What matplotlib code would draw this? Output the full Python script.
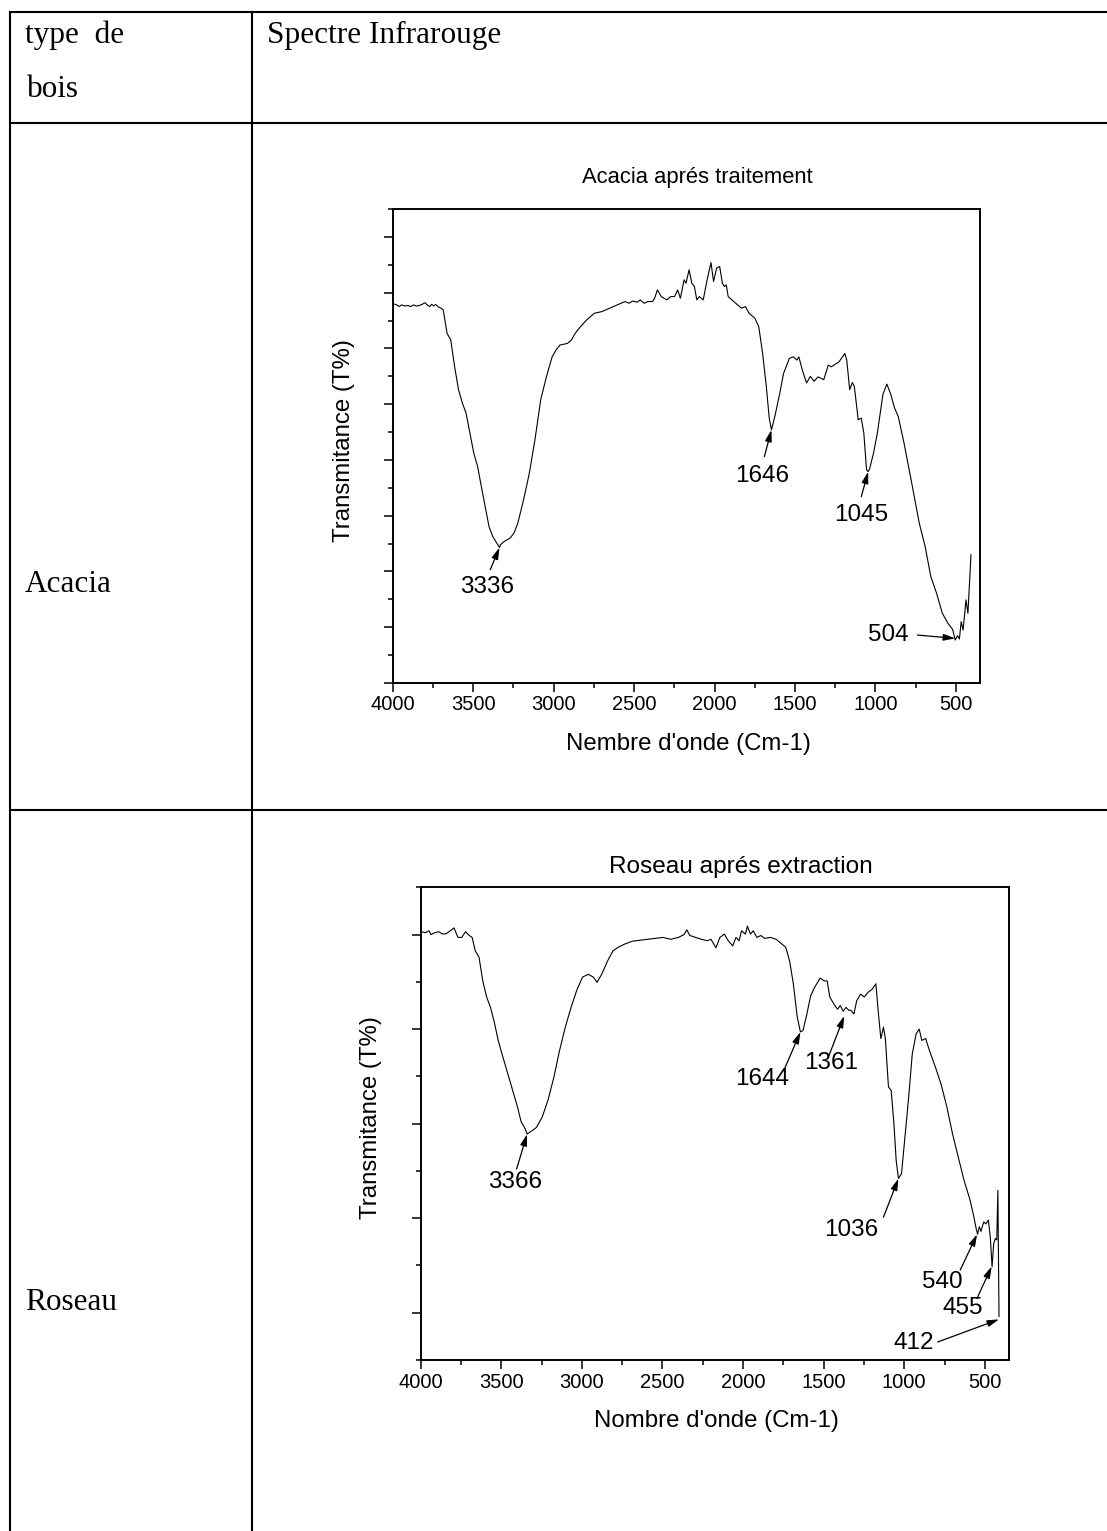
import numpy as np
import matplotlib
matplotlib.use("Agg")
import matplotlib.pyplot as plt
from matplotlib.lines import Line2D
from matplotlib.ticker import MultipleLocator, FixedLocator

# ---------------- data ----------------
acacia_wn = [3995, 3975, 3960, 3945, 3924, 3905, 3888, 3870, 3853, 3835, 3817, 3800, 3785, 3770,
             3758, 3745, 3734, 3715, 3698, 3686, 3662, 3639, 3615, 3591, 3567, 3544, 3520, 3496,
             3472, 3449, 3425, 3401, 3377, 3336, 3330, 3306, 3270, 3246, 3223, 3187, 3151, 3116,
             3080, 3044, 3009, 2985, 2961, 2914, 2890, 2866, 2842, 2795, 2747, 2700, 2652, 2605,
             2557, 2530, 2510, 2480, 2462, 2438, 2415, 2386, 2372, 2355, 2331, 2296, 2272, 2248,
             2229, 2212, 2189, 2177, 2158, 2141, 2125, 2110, 2094, 2070, 2046, 2022, 2006, 1987,
             1968, 1951, 1939, 1927, 1915, 1892, 1856, 1832, 1808, 1785, 1749, 1725, 1701, 1678,
             1660, 1646, 1625, 1594, 1571, 1535, 1511, 1487, 1476, 1452, 1428, 1404, 1381, 1357,
             1321, 1293, 1274, 1226, 1190, 1178, 1160, 1143, 1131, 1107, 1088, 1072, 1055, 1045,
             1036, 1012, 988, 953, 929, 905, 881, 858, 822, 774, 727, 691, 656, 620, 584, 549,
             520, 504, 490, 478, 467, 455, 437, 425, 406]
acacia_t = [68.0, 67.8, 67.5, 67.8, 67.6, 67.7, 67.5, 67.8, 67.6, 67.7, 67.9, 68.2, 67.8, 67.5,
            67.9, 67.6, 67.9, 67.4, 67.2, 66.9, 62.7, 61.5, 56.7, 52.6, 50.2, 48.4, 44.8, 41.2,
            38.8, 35.2, 31.6, 28.0, 26.2, 24.3, 24.8, 25.4, 26.0, 26.9, 28.6, 32.8, 37.6, 43.6,
            50.8, 55.0, 58.5, 59.7, 60.6, 60.9, 61.5, 62.7, 63.6, 65.1, 66.3, 66.6, 67.2, 67.8,
            68.4, 68.1, 68.5, 68.3, 68.7, 68.1, 68.4, 68.4, 69.0, 70.5, 69.3, 68.7, 69.3, 69.3,
            70.5, 69.0, 72.3, 71.7, 74.1, 71.7, 71.1, 68.7, 69.3, 68.7, 72.3, 75.4, 72.0, 74.4,
            74.7, 71.7, 71.1, 71.4, 69.3, 68.7, 67.8, 67.2, 67.5, 66.3, 65.4, 63.9, 59.1, 53.2,
            47.5, 45.4, 47.8, 52.0, 55.5, 58.2, 58.5, 57.9, 58.5, 55.9, 53.8, 55.0, 54.1, 54.9,
            54.4, 57.0, 56.7, 57.6, 59.1, 57.9, 52.6, 53.9, 53.2, 47.2, 47.5, 44.8, 38.2, 37.9,
            38.4, 41.2, 44.8, 51.8, 53.6, 51.8, 49.3, 47.8, 43.0, 35.8, 28.6, 24.5, 19.1, 16.1,
            12.5, 10.7, 9.6, 7.7, 8.5, 7.9, 11.0, 9.5, 14.9, 12.5, 23.0]

roseau_wn = [3995, 3971, 3948, 3936, 3912, 3888, 3864, 3841, 3817, 3793, 3769, 3745, 3722, 3698,
             3681, 3662, 3638, 3615, 3591, 3567, 3543, 3519, 3496, 3472, 3448, 3424, 3400, 3377,
             3353, 3340, 3305, 3282, 3246, 3210, 3174, 3139, 3103, 3067, 3032, 2996, 2960, 2929,
             2906, 2877, 2841, 2806, 2770, 2734, 2687, 2639, 2592, 2544, 2497, 2449, 2401, 2366,
             2349, 2330, 2294, 2259, 2223, 2199, 2168, 2144, 2116, 2092, 2064, 2044, 2025, 2009,
             1985, 1973, 1954, 1937, 1914, 1890, 1866, 1830, 1795, 1759, 1735, 1711, 1688, 1664,
             1644, 1628, 1604, 1581, 1557, 1521, 1497, 1478, 1462, 1438, 1414, 1397, 1379, 1361,
             1345, 1331, 1312, 1295, 1271, 1248, 1224, 1200, 1176, 1160, 1145, 1129, 1117, 1098,
             1081, 1064, 1050, 1036, 1017, 998, 974, 950, 926, 907, 891, 867, 843, 807, 772, 736,
             700, 665, 629, 593, 570, 555, 545, 534, 524, 507, 493, 478, 466, 455, 445, 435, 426,
             419, 412]
roseau_t = [45.3, 45.2, 45.4, 45.0, 45.2, 45.3, 45.05, 45.1, 45.4, 45.7, 44.7, 44.7, 45.3, 44.9,
            44.7, 43.3, 42.6, 40.1, 38.4, 37.3, 35.7, 33.8, 32.4, 31.0, 29.6, 28.2, 26.8, 25.2,
            24.5, 23.9, 24.3, 24.6, 25.7, 27.5, 29.9, 32.7, 35.2, 37.3, 39.1, 40.5, 40.8, 40.5,
            39.95, 40.8, 42.2, 43.3, 43.7, 44.0, 44.3, 44.4, 44.5, 44.6, 44.7, 44.5, 44.7, 45.0,
            45.5, 44.9, 44.7, 44.5, 44.35, 44.5, 43.6, 44.7, 45.05, 44.35, 43.8, 44.7, 44.35, 45.4,
            45.05, 45.9, 45.05, 45.4, 44.7, 44.9, 44.6, 44.7, 44.5, 44.0, 43.65, 42.2, 39.8, 36.3,
            34.7, 34.85, 36.6, 38.5, 39.4, 40.4, 40.1, 40.1, 38.4, 37.7, 37.1, 37.5, 36.9, 37.3,
            37.0, 37.0, 36.6, 38.0, 38.7, 38.4, 38.9, 39.2, 39.8, 36.6, 34.0, 35.2, 34.0, 28.9,
            28.5, 25.0, 21.1, 19.2, 19.7, 23.2, 27.5, 32.4, 34.5, 35.0, 33.8, 34.0, 32.7, 31.0,
            29.2, 26.8, 23.9, 21.5, 19.0, 17.0, 15.3, 14.0, 13.3, 14.1, 13.6, 14.6, 14.4, 14.8,
            13.0, 9.85, 12.3, 12.85, 12.7, 17.95, 4.6]

x_ticks = [4000, 3500, 3000, 2500, 2000, 1500, 1000, 500]

# peak annotations: label, text centre, arrow start, arrow tip (data coords)
acacia_peaks = [("3336", (3414, 17.2), (3394, 20.3), (3336, 24.3)),
                ("1646", (1701, 37.1), (1690, 40.6), (1646, 45.4)),
                ("1045", (1090, 30.1), (1088, 33.4), (1045, 37.9)),
                ("504", (922, 8.6), (739, 8.6), (504, 8.0))]
roseau_peaks = [("3366", (3413, 18.8), (3405, 20.2), (3340, 23.9)),
                ("1644", (1883, 29.75), (1748, 30.6), (1644, 34.7)),
                ("1361", (1455, 31.4), (1467, 32.2), (1372, 36.4)),
                ("1036", (1331, 13.7), (1129, 15.1), (1036, 19.2)),
                ("540", (762, 8.27), (653, 9.5), (548, 13.3)),
                ("455", (638, 5.46), (549, 6.5), (457, 9.9)),
                ("412", (938, 1.83), (793, 1.9), (412, 4.3))]

# ---------------- figure ----------------
W, H = 1107, 1531
fig = plt.figure(figsize=(W / 100, H / 100), dpi=100)
fig.patch.set_facecolor("white")


def hline(y, x0, x1):
    fig.add_artist(Line2D([x0 / W, x1 / W], [1 - y / H, 1 - y / H],
                          transform=fig.transFigure, color="black", lw=1.5))


def vline(x, y0, y1):
    fig.add_artist(Line2D([x / W, x / W], [1 - y0 / H, 1 - y1 / H],
                          transform=fig.transFigure, color="black", lw=1.5))


# table grid
hline(12, 10, W)
hline(123, 10, W)
hline(810, 10, W)
vline(10, 12, H)
vline(252, 12, H)

serif = "Liberation Serif"
tsize = 22.5
fig.text(25 / W, 1 - 43 / H, "type  de", family=serif, fontsize=tsize, va="baseline")
fig.text(27 / W, 1 - 97 / H, "bois", family=serif, fontsize=tsize, va="baseline")
fig.text(267 / W, 1 - 43 / H, "Spectre Infrarouge", family=serif, fontsize=tsize, va="baseline")
fig.text(25 / W, 1 - 585 / H, "Acacia", family=serif, fontsize=tsize, va="center")
fig.text(25 / W, 1 - 1302 / H, "Roseau", family=serif, fontsize=tsize, va="center")

sans = "Liberation Sans"


def make_axes(rect, wn, t, ylim, ymaj, ymin, title, tsz, tpad, tx, xlabel, peaks):
    ax = fig.add_axes(rect)
    ax.plot(wn, t, color="black", lw=0.8)
    ax.set_xlim(4000, 350)
    ax.set_ylim(*ylim)
    ax.xaxis.set_major_locator(FixedLocator(x_ticks))
    ax.xaxis.set_minor_locator(MultipleLocator(250))
    ax.yaxis.set_major_locator(FixedLocator(ymaj))
    ax.yaxis.set_minor_locator(FixedLocator(ymin))
    ax.tick_params(axis="y", labelleft=False)
    ax.tick_params(which="major", direction="out", length=6.5, width=1.1,
                   labelsize=14.5, pad=2.5)
    ax.tick_params(which="minor", direction="out", length=3.6, width=1.1)
    for lab in ax.get_xticklabels():
        lab.set_family(sans)
    for s in ax.spines.values():
        s.set_linewidth(1.4)
    ax.set_title(title, family=sans, fontsize=tsz, pad=tpad)
    ax.title.set_x(tx)
    ax.set_xlabel(xlabel, family=sans, fontsize=17.3)
    ax.set_ylabel("Transmitance (T%)", family=sans, fontsize=17.3)
    ax.xaxis.set_label_coords(0.503, -0.105)
    ax.yaxis.set_label_coords(-0.065, 0.512)
    for lab, tpos, start, tip in peaks:
        ax.text(tpos[0], tpos[1], lab, family=sans, fontsize=17.5,
                ha="center", va="center")
        ax.annotate("", xy=tip, xytext=start,
                    arrowprops=dict(arrowstyle="-|>,head_length=0.7,head_width=0.2",
                                    color="black", lw=0.9, shrinkA=0, shrinkB=0))
    return ax


make_axes([392.7 / W, 1 - 683 / H, (980 - 392.7) / W, (683 - 209) / H],
          acacia_wn, acacia_t, (0, 85), np.arange(0, 81, 10), np.arange(5, 86, 10),
          "Acacia aprés traitement", 15.8, 19, 0.519, "Nembre d'onde (Cm-1)", acacia_peaks)
make_axes([420.7 / W, 1 - 1360 / H, (1009 - 420.7) / W, (1360 - 887.3) / H],
          roseau_wn, roseau_t, (0, 50), np.arange(5, 50, 10), np.arange(0, 51, 10),
          "Roseau aprés extraction", 17.6, 10, 0.545, "Nombre d'onde (Cm-1)", roseau_peaks)

fig.savefig("out.png", dpi=100, facecolor="white")
